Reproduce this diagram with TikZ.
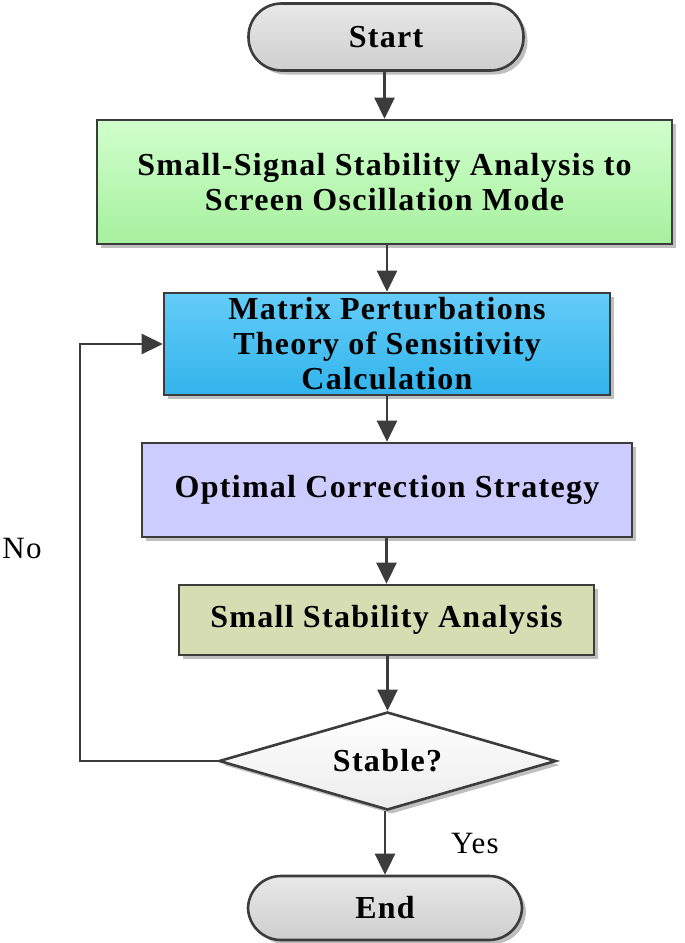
\documentclass[tikz,border=0pt]{standalone}
\usepackage{fontspec}
\setmainfont{Liberation Serif}
\newfontfamily\lsfont[LetterSpace=4]{Liberation Serif}
\usetikzlibrary{arrows.meta,shapes.geometric,shadows,calc}
\definecolor{linec}{HTML}{3C3C3C}
\begin{document}
\begin{tikzpicture}[x=1pt,y=-1pt,
  base/.style={draw=linec,line width=2.6pt,align=center,font=\lsfont\fontsize{32}{35}\selectfont\bfseries,inner sep=0pt},
  shad/.style={drop shadow={shadow xshift=4pt,shadow yshift=-4pt,opacity=0.25,fill=black}},
  pill/.style={base,rounded corners=33pt,top color=gray!18,bottom color=gray!38,shad},
  boxg/.style={base,top color={rgb,255:red,208;green,255;blue,204},bottom color={rgb,255:red,166;green,240;blue,158},shad},
  boxb/.style={base,top color={rgb,255:red,100;green,204;blue,248},bottom color={rgb,255:red,50;green,180;blue,236},shad},
  boxl/.style={base,fill={rgb,255:red,204;green,204;blue,255},shad},
  boxo/.style={base,fill={rgb,255:red,214;green,221;blue,178},shad},
  dia/.style={base,diamond,aspect=3.44,top color=white,bottom color=gray!15,shad},
  conn/.style={draw=linec,line width=2.6pt,-{Triangle[length=21pt,width=20pt]}},
  lbl/.style={font=\lsfont\fontsize{31}{34}\selectfont}
]
\useasboundingbox (0,0) rectangle (685,943);
\node[pill,minimum width=275pt,minimum height=67pt] (start) at (386,37) {Start};
\node[boxg,minimum width=575pt,minimum height=124pt] (b1) at (384.5,182) {Small-Signal Stability Analysis to\\Screen Oscillation Mode};
\node[boxb,minimum width=446pt,minimum height=102pt] (b2) at (387,344) {Matrix Perturbations\\Theory of Sensitivity\\Calculation};
\node[boxl,minimum width=490pt,minimum height=94pt] (b3) at (387,490) {Optimal Correction Strategy};
\node[boxo,minimum width=415pt,minimum height=70pt] (b4) at (386.5,620) {Small Stability Analysis};
\node[dia,minimum width=337pt,minimum height=98pt] (d) at (387.5,761) {Stable?};
\node[pill,minimum width=274pt,minimum height=64pt] (end) at (385,908) {End};
\coordinate (lc) at (80,761);
\draw[conn] (start.south -| b1.north) -- (b1.north);
\draw[conn] (b1.south -| b2.north) -- (b2.north);
\draw[conn] (b2.south -| b3.north) -- (b3.north);
\draw[conn] (b3.south -| b4.north) -- (b4.north);
\draw[conn] (b4.south -| d.north) -- (d.north);
\draw[conn] (d.south -| end.north) -- (end.north);
\draw[conn] (d.west) -- (lc) |- (b2.west);
\node[lbl] (no) at (22,548) {No};
\node[lbl] (yes) at (475,843) {Yes};
\end{tikzpicture}
\end{document}
